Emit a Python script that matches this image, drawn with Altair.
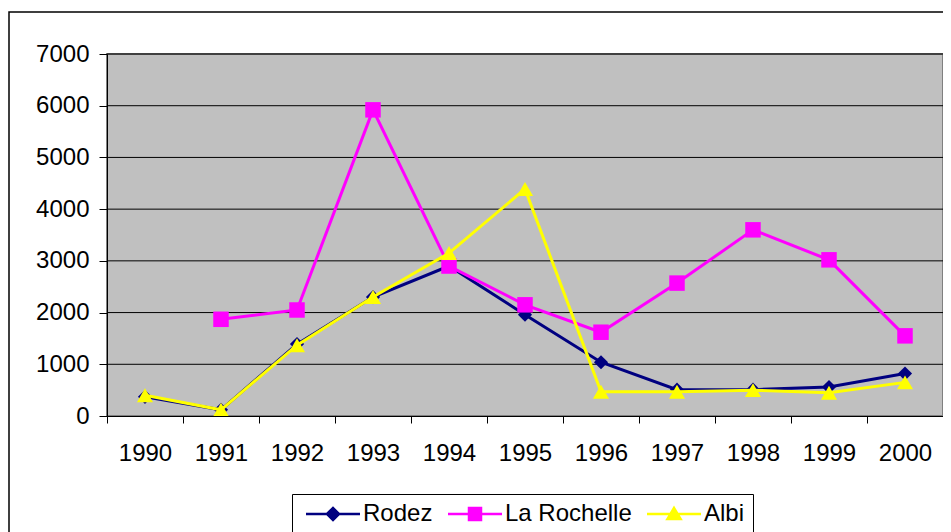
import altair as alt
import pandas as pd

years = ["1990", "1991", "1992", "1993", "1994", "1995", "1996", "1997", "1998", "1999", "2000"]
rodez = [370, 120, 1390, 2300, 2900, 1960, 1040, 510, 510, 560, 820]
la_rochelle = [None, 1870, 2050, 5920, 2900, 2150, 1620, 2570, 3600, 3020, 1550]
albi = [400, 120, 1370, 2300, 3150, 4390, 470, 470, 500, 450, 650]

series_names = ["Rodez", "La Rochelle", "Albi"]
series_values = [rodez, la_rochelle, albi]
series_colors = ["#000080", "#FF00FF", "#FFFF00"]
series_shapes = ["diamond", "square", "triangle-up"]
series_sizes = [200, 240, 260]
y_ticks = [0, 1000, 2000, 3000, 4000, 5000, 6000, 7000]

legend_paths = [
    "M-4.5,0L4.5,0M-1,0L0,-1L1,0L0,1Z",
    "M-4.5,0L4.5,0M-1,-1L1,-1L1,1L-1,1Z",
    "M-4.5,0L4.5,0M-1.1,0.85L0,-1L1.1,0.85Z",
]

rows = []
for name, vals in zip(series_names, series_values):
    for y, v in zip(years, vals):
        if v is not None:
            rows.append({"year": y, "series": name, "value": v})
df = pd.DataFrame(rows)
grid_df = pd.DataFrame({"value": y_ticks[1:]})

FONT = "Liberation Sans"

x_enc = alt.X(
    "year:O",
    scale=alt.Scale(type="band", domain=years, paddingInner=0, paddingOuter=0),
    axis=alt.Axis(
        title=None, tickBand="extent", labelAngle=0, labelFont=FONT, labelFontSize=24,
        labelColor="black", domainColor="black", tickColor="black", tickSize=7,
        labelPadding=18, grid=False, zindex=1,
    ),
)
y_scale = alt.Scale(domain=[0, 7000], nice=False)
y_enc = alt.Y(
    "value:Q",
    scale=y_scale,
    axis=alt.Axis(
        title=None, values=y_ticks, format="d", labelFont=FONT, labelFontSize=24, labelColor="black",
        domainColor="black", tickColor="black", tickSize=8, labelPadding=10,
        grid=False, zindex=1,
    ),
)

layers = []

# outer chart border and plot-area background
deco = pd.DataFrame({"a": [0]})
border = alt.Chart(deco).mark_rect(
    fill="transparent", stroke="black", strokeWidth=1.5
).encode(
    x=alt.value(-98), y=alt.value(-42), x2=alt.value(1200), y2=alt.value(900)
)
plot_bg = alt.Chart(deco).mark_rect(
    fill="#C0C0C0", stroke="#808080", strokeWidth=2
).encode(
    x=alt.value(0), y=alt.value(0), x2=alt.value(836), y2=alt.value(362)
)
gridlines = alt.Chart(grid_df).mark_rule(color="black", strokeWidth=1).encode(
    y=y_enc,
    x=alt.value(0), x2=alt.value(836),
)
layers += [border, plot_bg, gridlines]

for name, color, shape, size in zip(series_names, series_colors, series_shapes, series_sizes):
    base = alt.Chart(df).transform_filter(alt.datum.series == name).encode(x=x_enc, y=y_enc)
    layers.append(base.mark_line(color=color, strokeWidth=3))
    layers.append(
        base.mark_point(shape=shape, filled=True, color=color, size=size, opacity=1, strokeWidth=0)
    )

leg = alt.Legend(
    title=None, orient="none", legendX=185, legendY=440, direction="horizontal", columns=3,
    labelFont=FONT, labelFontSize=24, labelColor="black", strokeColor="black", padding=8,
    columnPadding=9, symbolSize=144, symbolOffset=21, labelOffset=18,
    symbolStrokeWidth=2.5, fillColor="white",
)
legend_layer = alt.Chart(df).transform_filter("false").mark_point(
    filled=True, opacity=1, strokeWidth=2.5
).encode(
    fill=alt.Fill("series:N", scale=alt.Scale(domain=series_names, range=series_colors), legend=leg),
    stroke=alt.Stroke("series:N", scale=alt.Scale(domain=series_names, range=series_colors), legend=leg),
    shape=alt.Shape("series:N", scale=alt.Scale(domain=series_names, range=legend_paths), legend=leg),
)
layers.append(legend_layer)

chart = alt.layer(*layers).properties(
    width=836, height=362,
    background="white",
    autosize=alt.AutoSizeParams(type="none"),
    padding={"left": 99, "top": 46, "right": 0, "bottom": 116},
).configure_view(
    stroke=None
)

chart.save("out.html", embed_options={"renderer": "svg", "actions": False})
